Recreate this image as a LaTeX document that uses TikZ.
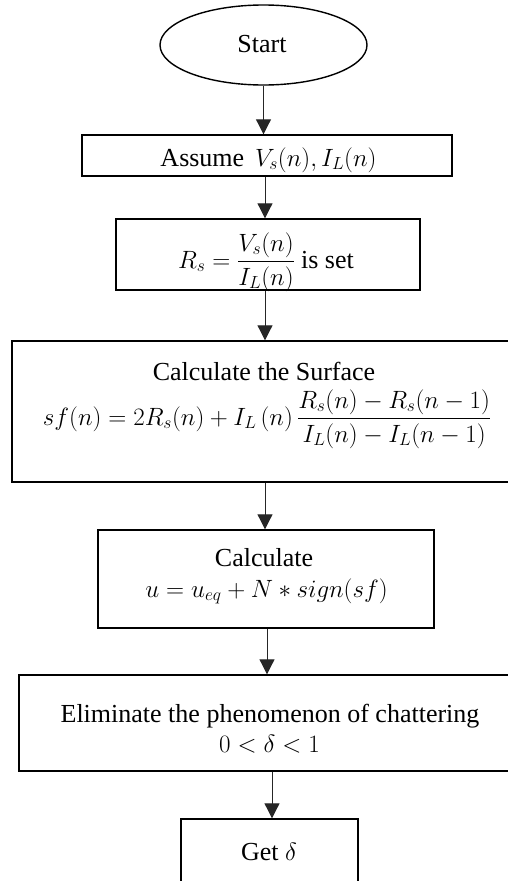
\documentclass[tikz,border=0pt]{standalone}
\usepackage{fix-cm}
\usepackage{amsmath}
\usepackage{fontspec}
\setmainfont{Liberation Serif}
\usetikzlibrary{shapes.geometric,arrows.meta}
\tikzset{
  boxnode/.style={draw, line width=1.4pt, rectangle, inner sep=0pt},
  txt/.style={anchor=base, inner sep=0pt, font=\fontsize{26}{30}\selectfont},
  mtxt/.style={anchor=base, inner sep=0pt, font=\fontsize{25}{30}\selectfont},
  arr/.style={line width=1pt, draw=black!85, -{Triangle[width=15pt,length=15pt]}}
}
\begin{document}
\begin{tikzpicture}[x=1pt,y=-1pt]
\clip (0,0) rectangle (508,881);
\fill[white] (0,0) rectangle (508,881);
\node[draw, line width=1.4pt, ellipse, minimum width=207pt, minimum height=80pt, inner sep=0pt] (start) at (263.5,45) {};
\node[txt] (starttxt) at (262,52) {Start};
\node[boxnode, minimum width=370pt, minimum height=41pt] (assume) at (267,155.5) {};
\node[mtxt] (assumetxt) at (268.5,166) {\fontsize{26}{30}\selectfont Assume\, \fontsize{25}{30}\selectfont$V_s(n), I_L(n)$};
\node[boxnode, minimum width=304pt, minimum height=71pt] (rs) at (268,254.5) {};
\node[mtxt] (rstxt) at (266,268) {$R_s = \dfrac{V_s(n)}{I_L(n)}$ \fontsize{26}{30}\selectfont is set};
\node[boxnode, minimum width=518pt, minimum height=141pt] (surf) at (271,411.5) {};
\node[txt] (surftxt) at (264,380) {Calculate the Surface};
\node[mtxt] (surfeq) at (267,425) {$sf(n) = 2R_s(n) + I_L\,(n)\,\dfrac{R_s(n)-R_s(n-1)}{I_L(n)-I_L(n-1)}$};
\node[boxnode, minimum width=336pt, minimum height=98pt] (calc) at (266,579) {};
\node[txt] (calctxt) at (264,566) {Calculate};
\node[mtxt] (calceq) at (266.5,597) {$u = u_{eq} + N * sign(sf)$};
\node[boxnode, minimum width=511pt, minimum height=96pt] (elim) at (274.5,723) {};
\node[txt] (elimtxt) at (270,722) {Eliminate the phenomenon of chattering};
\node[mtxt] (elimeq) at (269.5,752) {$0<\delta<1$};
\node[boxnode, minimum width=177pt, minimum height=81pt] (get) at (269.5,859.5) {};
\node[txt] (gettxt) at (269,860) {Get \fontsize{25}{30}\selectfont$\delta$};
\draw[arr] (start.south) -- (start.south |- assume.north);
\draw[arr] ([xshift=-2pt]assume.south) -- ([xshift=-2pt]assume.south |- rs.north);
\draw[arr] ([xshift=-3pt]rs.south) -- ([xshift=-3pt]rs.south |- surf.north);
\draw[arr] ([xshift=-1pt]calc.north |- surf.south) -- ([xshift=-1pt]calc.north);
\draw[arr] ([xshift=1pt]calc.south) -- ([xshift=1pt]calc.south |- elim.north);
\draw[arr] ([xshift=2.5pt]get.north |- elim.south) -- ([xshift=2.5pt]get.north);
\end{tikzpicture}
\end{document}
